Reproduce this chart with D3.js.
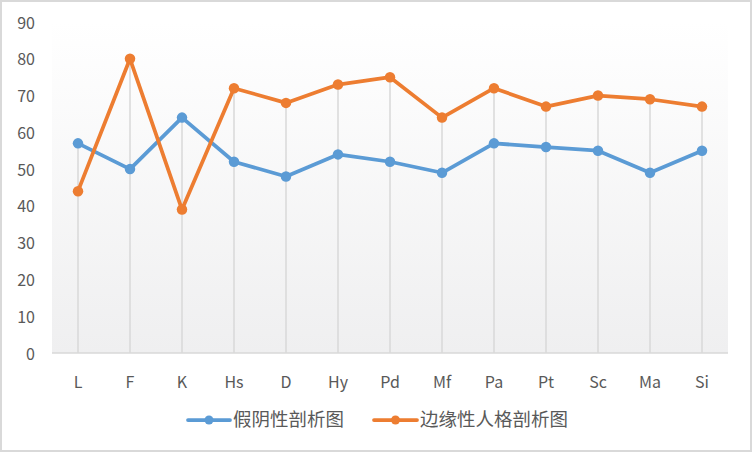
<!DOCTYPE html>
<html>
<head>
<meta charset="utf-8">
<script src="https://cdn.jsdelivr.net/npm/d3@7"></script>
<style>
  html, body { margin: 0; padding: 0; background: #fff; }
  svg { display: block; }
  text { font-family: "Noto Sans CJK SC", "Open Sans", sans-serif; }
</style>
</head>
<body>
<svg width="752" height="452"></svg>
<script>
const categories = ["L", "F", "K", "Hs", "D", "Hy", "Pd", "Mf", "Pa", "Pt", "Sc", "Ma", "Si"];
const falseNegative = [57, 50, 64, 52, 48, 54, 52, 49, 57, 56, 55, 49, 55];
const borderline = [44, 80, 39, 72, 68, 73, 75, 64, 72, 67, 70, 69, 67];
const yTicks = [0, 10, 20, 30, 40, 50, 60, 70, 80, 90];
const seriesNames = ["假阴性剖析图", "边缘性人格剖析图"];
const colors = ["#5b9bd5", "#ed7d31"];

const svg = d3.select("svg"),
      width = +svg.attr("width"),
      height = +svg.attr("height");

// outer chart border
svg.append("rect")
  .attr("x", 1).attr("y", 1)
  .attr("width", width - 2).attr("height", height - 2)
  .attr("fill", "#fff")
  .attr("stroke", "#d9d9d9")
  .attr("stroke-width", 2);

const plotLeft = 52, plotRight = 728, plotTop = 22, plotBottom = 353;

const x = d3.scaleBand().domain(categories).range([plotLeft, plotRight]);
const y = d3.scaleLinear().domain([0, 90]).range([plotBottom, plotTop]);

// plot area gradient
const grad = svg.append("defs").append("linearGradient")
  .attr("id", "bg").attr("x1", 0).attr("y1", 0).attr("x2", 0).attr("y2", 1);
grad.append("stop").attr("offset", "0%").attr("stop-color", "#ffffff");
grad.append("stop").attr("offset", "100%").attr("stop-color", "#efeff0");

svg.append("rect")
  .attr("x", plotLeft).attr("y", plotTop)
  .attr("width", plotRight - plotLeft).attr("height", plotBottom - plotTop)
  .attr("fill", "url(#bg)");

const cx = d => x(d) + x.bandwidth() / 2;

// drop lines from the higher point to the axis
svg.append("g")
  .selectAll("line")
  .data(categories)
  .enter().append("line")
  .attr("x1", cx).attr("x2", cx)
  .attr("y1", (d, i) => y(Math.max(falseNegative[i], borderline[i])))
  .attr("y2", plotBottom)
  .attr("stroke", "#d9d9d9")
  .attr("stroke-width", 1.5);

// x axis line
svg.append("line")
  .attr("x1", plotLeft).attr("x2", plotRight)
  .attr("y1", plotBottom).attr("y2", plotBottom)
  .attr("stroke", "#d9d9d9")
  .attr("stroke-width", 1.5);

// y tick labels
svg.append("g")
  .selectAll("text")
  .data(yTicks)
  .enter().append("text")
  .attr("x", 35)
  .attr("y", d => y(d) + 1)
  .attr("dy", "0.35em")
  .attr("text-anchor", "end")
  .attr("fill", "#595959")
  .attr("font-size", 16)
  .text(d => d);

// x tick labels
svg.append("g")
  .selectAll("text")
  .data(categories)
  .enter().append("text")
  .attr("x", cx)
  .attr("y", 382)
  .attr("dy", "0.35em")
  .attr("text-anchor", "middle")
  .attr("fill", "#595959")
  .attr("font-size", 16)
  .text(d => d);

const line = d3.line()
  .x((d, i) => cx(categories[i]))
  .y(d => y(d));

[falseNegative, borderline].forEach((values, s) => {
  const g = svg.append("g");
  g.append("path")
    .datum(values)
    .attr("d", line)
    .attr("fill", "none")
    .attr("stroke", colors[s])
    .attr("stroke-width", 3.75)
    .attr("stroke-linejoin", "round");
  g.selectAll("circle")
    .data(values)
    .enter().append("circle")
    .attr("cx", (d, i) => cx(categories[i]))
    .attr("cy", d => y(d))
    .attr("r", 5.25)
    .attr("fill", colors[s]);
});

// legend
const legendItems = [
  { x0: 188, x1: 230, tx: 233 },
  { x0: 374, x1: 417, tx: 420 }
];
const legendY = 420;
legendItems.forEach((item, s) => {
  const g = svg.append("g");
  g.append("line")
    .attr("x1", item.x0).attr("x2", item.x1)
    .attr("y1", legendY).attr("y2", legendY)
    .attr("stroke", colors[s])
    .attr("stroke-width", 3.75)
    .attr("stroke-linecap", "round");
  g.append("circle")
    .attr("cx", (item.x0 + item.x1) / 2)
    .attr("cy", legendY)
    .attr("r", 4.5)
    .attr("fill", colors[s]);
  g.append("text")
    .attr("x", item.tx)
    .attr("y", legendY)
    .attr("dy", "0.35em")
    .attr("fill", "#595959")
    .attr("font-size", 18.5)
    .text(seriesNames[s]);
});
</script>
</body>
</html>
